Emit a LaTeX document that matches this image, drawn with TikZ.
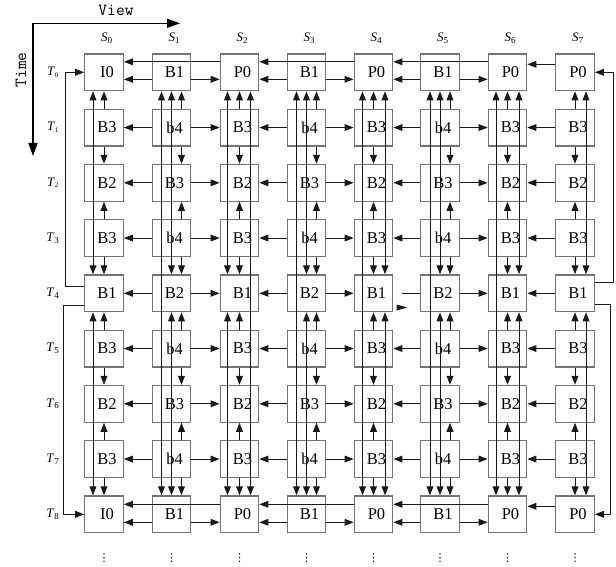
\documentclass[tikz,border=0pt]{standalone}
\usepackage{fontspec}
\setmainfont{Liberation Serif}
\newfontfamily\dvfont{DejaVu Sans}
\usetikzlibrary{arrows.meta,calc}
\begin{document}
\begin{tikzpicture}[x=1pt,y=-1pt,
  fr/.style={draw=black!55, line width=1.3pt, minimum width=38.5pt, minimum height=36.7pt, inner sep=0pt, font=\fontsize{16.5}{16.5}\selectfont},
  arr/.style={draw=black!90, line width=1pt, -{Triangle[length=9pt,width=6.8pt]}},
  darr/.style={draw=black!90, line width=1pt, {Triangle[length=9pt,width=6.8pt]}-{Triangle[length=9pt,width=6.8pt]}},
  plain/.style={draw=black!90, line width=1pt},
  axarr/.style={draw=black, line width=1.3pt, -{Triangle[length=13pt,width=9pt]}},
  lab/.style={font=\fontsize{13}{13}\selectfont, inner sep=0pt},
  ttl/.style={font=\ttfamily\fontsize{17}{17}\selectfont, inner sep=0pt}
  ]
\useasboundingbox (0,0) rectangle (616,567);

% axes
\coordinate (o) at (33,23.3);
\coordinate (vx) at (180,23.3);
\coordinate (ty) at (33,156);
\draw[axarr] (o) -- (vx);
\draw[axarr] (o) -- (ty);
\node[ttl] (view) at (116,10) {View};
\node[ttl, rotate=90] (time) at (21,70) {Time};

% frames
\foreach \k/\row in {0/{I0,B1,P0,B1,P0,B1,P0,P0},
                     1/{B3,b4,B3,b4,B3,b4,B3,B3},
                     2/{B2,B3,B2,B3,B2,B3,B2,B2},
                     3/{B3,b4,B3,b4,B3,b4,B3,B3},
                     4/{B1,B2,B1,B2,B1,B2,B1,B1},
                     5/{B3,b4,B3,b4,B3,b4,B3,B3},
                     6/{B2,B3,B2,B3,B2,B3,B2,B2},
                     7/{B3,b4,B3,b4,B3,b4,B3,B3},
                     8/{I0,B1,P0,B1,P0,B1,P0,P0}}{
  \foreach \lab [count=\i from 0] in \row {
    \pgfmathsetmacro\cx{{104,171.5,239.5,306.5,373.5,440,507.5,575}[\i]}
    \node[fr] (n\i-\k) at (\cx,{72.3+55.25*\k}) {\hspace*{6pt}\lab};
  }
}

% column labels and dots
\foreach \i in {0,...,7}{
  \pgfmathsetmacro\cx{{104,171.5,239.5,306.5,373.5,440,507.5,575}[\i]}
  \node[lab] (s\i) at (\cx+3,38) {\textit{S}\textsubscript{\i}};
  \node[inner sep=0pt, font=\dvfont\fontsize{11}{11}\selectfont] (d\i) at (\cx,558) {⋮};
}
% row labels
\foreach \k in {0,...,8}{
  \node[lab] (t\k) at (53,{72.3+55.25*\k}) {\textit{T}\textsubscript{\ifnum\k<3\scriptsize\fi\k}};
}

% vertical short arrows and T2/T6 lines
\foreach \i/\s/\a in {0/0/-11, 1/10/0, 2/0/-12, 3/10/0, 4/0/11.5, 5/10/0, 6/0/11.5, 7/0/11}{
  \foreach \k/\p/\q in {1/0/2,3/2/4,5/4/6,7/6/8}{
    \draw[arr] ([xshift=\s pt]n\i-\k.north) -- ([xshift=\s pt]n\i-\p.south);
    \draw[arr] ([xshift=\s pt]n\i-\k.south) -- ([xshift=\s pt]n\i-\q.north);
  }
  \draw[darr] ([xshift=\a pt]n\i-0.south) -- ([xshift=\a pt]n\i-4.north);
  \draw[darr] ([xshift=\a pt]n\i-4.south) -- ([xshift=\a pt]n\i-8.north);
}
% T4 long lines
\foreach \i/\b in {1/-10,2/11,3/-10,4/-11,5/-10,6/-11.5}{
  \draw[darr] ([xshift=\b pt]n\i-0.south) -- ([xshift=\b pt]n\i-8.north);
}

% horizontal arrows, middle rows
\foreach \k in {1,...,7}{
  \draw[arr] (n1-\k.west) -- (n0-\k.east);
  \draw[arr] (n1-\k.east) -- (n2-\k.west);
  \draw[arr] (n3-\k.west) -- (n2-\k.east);
  \draw[arr] (n3-\k.east) -- (n4-\k.west);
  \ifnum\k=4\relax
    \draw[plain] (n5-\k.west) -- ([xshift=8.3pt]n4-\k.east);
  \else
    \draw[arr] (n5-\k.west) -- (n4-\k.east);
  \fi
  \draw[arr] (n5-\k.east) -- (n6-\k.west);
  \draw[arr] (n7-\k.west) -- (n6-\k.east);
}
\fill[black!90] (396.7,304.5) -- (407.3,307.5) -- (396.7,310.5) -- cycle;

% horizontal arrows, rows T0 and T8
\foreach \k/\u/\d in {0/10.5/7, 8/10/8}{
  \draw[arr] ([yshift=\u pt]n2-\k.west) -- ([yshift=\u pt]n0-\k.east);
  \draw[arr] ([yshift=-\d pt]n1-\k.west) -- ([yshift=-\d pt]n0-\k.east);
  \draw[arr] ([yshift=-\d pt]n1-\k.east) -- ([yshift=-\d pt]n2-\k.west);
  \draw[arr] ([yshift=-\d pt]n3-\k.west) -- ([yshift=-\d pt]n2-\k.east);
  \draw[arr] ([yshift=\u pt]n4-\k.west) -- ([yshift=\u pt]n2-\k.east);
  \draw[arr] ([yshift=-\d pt]n3-\k.east) -- ([yshift=-\d pt]n4-\k.west);
  \draw[arr] ([yshift=-\d pt]n5-\k.west) -- ([yshift=-\d pt]n4-\k.east);
  \draw[arr] ([yshift=\u pt]n6-\k.west) -- ([yshift=\u pt]n4-\k.east);
  \draw[arr] ([yshift=-\d pt]n5-\k.east) -- ([yshift=-\d pt]n6-\k.west);
  \draw[arr] ([yshift=8pt]n7-\k.west) -- ([yshift=8pt]n6-\k.east);
}

% outer loops
\draw[arr] ([yshift=6.6pt]n0-4.west) -| ([xshift=-19pt]n0-0.west) -- (n0-0.west);
\draw[arr] ([yshift=-11.7pt]n0-4.west) -| ([xshift=-21pt]n0-8.west) -- (n0-8.west);
\draw[arr] ([yshift=10.6pt]n7-4.east) -| ([xshift=19pt]n7-0.east) -- (n7-0.east);
\draw[arr] ([yshift=-10.7pt]n7-4.east) -| ([xshift=16pt]n7-8.east) -- (n7-8.east);
\end{tikzpicture}
\end{document}
